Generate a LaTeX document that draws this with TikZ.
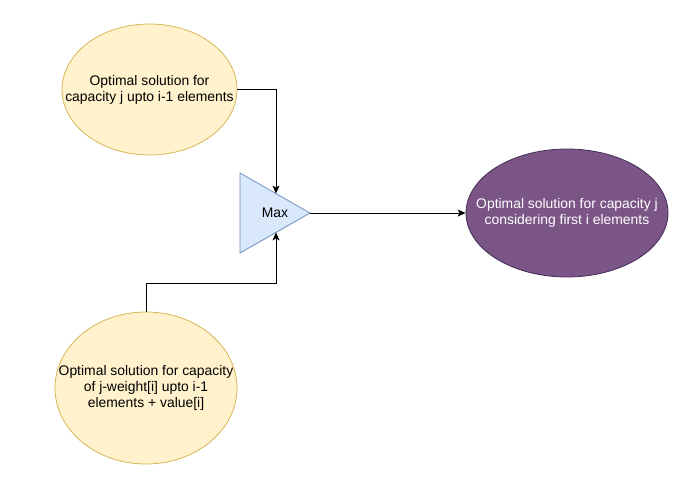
\documentclass[tikz,border=0pt]{standalone}
\usepackage{fontspec}
\setmainfont{Liberation Sans}
\usetikzlibrary{arrows.meta,shapes.geometric}
\definecolor{yfill}{HTML}{FFF2CC}
\definecolor{ydraw}{HTML}{D6B656}
\definecolor{bfill}{HTML}{DAE8FC}
\definecolor{bdraw}{HTML}{6C8EBF}
\definecolor{pfill}{HTML}{7A5586}
\definecolor{pdraw}{HTML}{432D57}
\begin{document}
\begin{tikzpicture}[x=1pt,y=-1pt,line width=1pt,
  ell/.style={ellipse,inner sep=0pt,line width=0.8pt},
  txt/.style={align=center,inner sep=0pt,font=\fontsize{13.9}{16}\selectfont},
  arr/.style={-{Stealth[length=8pt,width=7pt,inset=2pt]},line width=1pt}]
\useasboundingbox (0,0) rectangle (695,481);
% ellipses
\node[ell,fill=yfill,draw=ydraw,minimum width=175,minimum height=131] (top) at (149.5,89.5) {};
\node[txt] (toptxt) at (top.center) {Optimal solution for\\capacity j upto i-1 elements};
\node[ell,fill=yfill,draw=ydraw,minimum width=182,minimum height=152] (bot) at (146,388) {};
\node[txt] (bottxt) at (bot.center) {Optimal solution for capacity\\of j-weight[i] upto i-1\\elements + value[i]};
\node[ell,fill=pfill,draw=pdraw,minimum width=202,minimum height=128] (res) at (567,213) {};
\node[txt,text=white] (restxt) at (res.center) {Optimal solution for capacity j\\considering first i elements};
% triangle
\draw[fill=bfill,draw=bdraw,line width=0.8pt] (240,173) -- (310,213) -- (240,253) -- cycle;
\node[txt] (max) at (275,213) {Max};
\coordinate (tip) at (310,213);
\coordinate (tritop) at (276,193.6);
\coordinate (tribot) at (276,232.4);
\coordinate (bend) at (276,283);
% connectors
\draw[arr] (top.east) -| (tritop);
\draw[arr] (bot.north) |- (bend) -- (tribot);
\draw[arr] (tip) -- (res.west);
\end{tikzpicture}
\end{document}
